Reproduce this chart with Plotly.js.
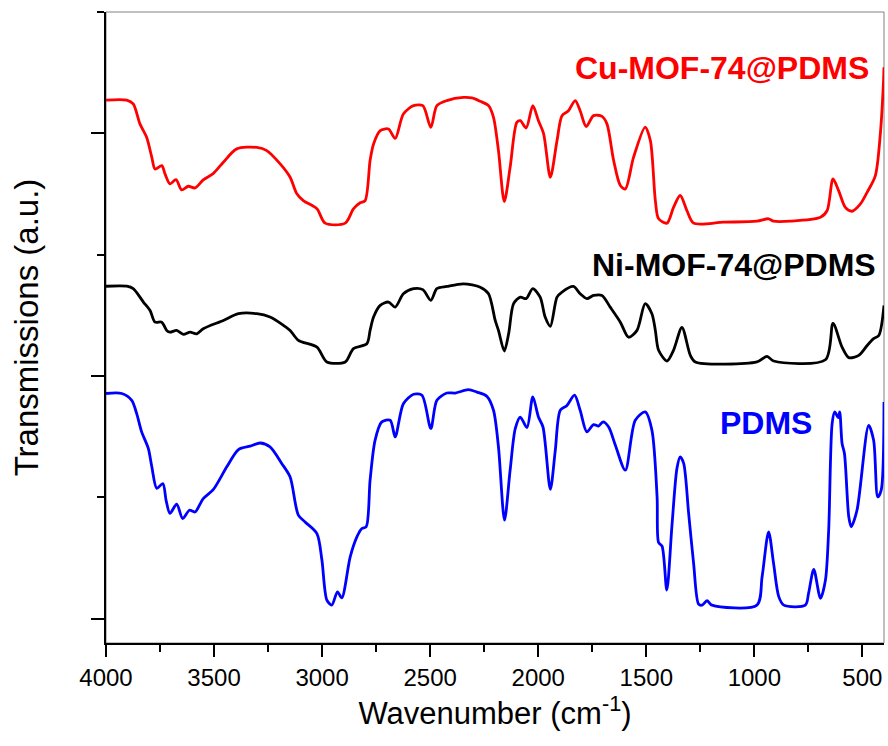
<!DOCTYPE html>
<html>
<head>
<meta charset="utf-8">
<script src="https://cdn.plot.ly/plotly-3.0.1.min.js"></script>
<style>html,body{margin:0;padding:0;background:#fff;}#chart{width:888px;height:746px;}</style>
</head>
<body>
<div id="chart"></div>
<script>
// Cu-MOF-74@PDMS (red)
const cuWavenumber = [4000,3904,3874,3843,3812,3788,3773,3742,3727,3704,3676,3650,3619,3588,3550,3503,3457,3395,3302,3256,3194,3148,3117,3087,3024,2986,2893,2855,2824,2801,2778,2762,2731,2693,2662,2624,2577,2534,2497,2469,2423,2346,2307,2268,2230,2207,2184,2157,2130,2099,2083,2056,2025,1999,1975,1944,1913,1890,1860,1829,1806,1778,1744,1705,1682,1651,1620,1597,1559,1505,1481,1458,1443,1404,1374,1343,1312,1281,1142,988,934,911,833,694,663,636,610,579,548,509,478,440,417,403,400];
const cuTransmission = [2.137,2.137,2.121,2.039,1.984,1.901,1.853,1.867,1.833,1.792,1.809,1.767,1.782,1.775,1.808,1.835,1.881,1.936,1.942,1.929,1.874,1.819,1.751,1.723,1.689,1.630,1.630,1.689,1.714,1.723,1.888,1.956,2.011,2.018,1.979,2.080,2.114,2.114,2.025,2.114,2.135,2.148,2.146,2.132,2.114,2.066,1.929,1.719,1.860,2.045,2.052,2.022,2.114,2.052,1.998,1.819,1.970,2.073,2.093,2.135,2.093,2.028,2.073,2.070,2.039,1.888,1.785,1.771,1.901,2.026,1.970,1.723,1.648,1.630,1.695,1.744,1.682,1.630,1.634,1.638,1.648,1.638,1.638,1.654,1.682,1.812,1.764,1.695,1.679,1.709,1.757,1.826,1.998,2.200,2.272];

// Ni-MOF-74@PDMS (black)
const niWavenumber = [4000,3904,3874,3827,3796,3773,3742,3719,3704,3673,3642,3611,3580,3550,3457,3387,3302,3241,3179,3148,3110,3024,2978,2893,2855,2793,2778,2762,2731,2693,2662,2624,2577,2534,2497,2469,2423,2346,2268,2230,2199,2184,2157,2137,2114,2083,2056,2025,1991,1968,1944,1913,1890,1837,1806,1775,1744,1705,1667,1620,1582,1543,1505,1474,1458,1443,1404,1374,1335,1296,1273,988,941,911,671,636,594,563,517,478,448,424,400];
const niTransmission = [1.370,1.370,1.360,1.305,1.270,1.222,1.222,1.188,1.181,1.188,1.172,1.181,1.174,1.195,1.229,1.257,1.257,1.243,1.209,1.188,1.147,1.119,1.058,1.058,1.113,1.133,1.188,1.243,1.291,1.305,1.284,1.339,1.360,1.356,1.312,1.360,1.369,1.380,1.366,1.339,1.229,1.188,1.103,1.174,1.298,1.325,1.319,1.360,1.325,1.243,1.205,1.325,1.346,1.369,1.339,1.319,1.332,1.332,1.284,1.222,1.160,1.188,1.298,1.257,1.188,1.106,1.062,1.106,1.200,1.085,1.058,1.058,1.081,1.062,1.067,1.217,1.119,1.076,1.085,1.126,1.154,1.167,1.291];

// PDMS (blue)
const pdmsWavenumber = [4000,3927,3881,3858,3835,3804,3788,3765,3737,3722,3704,3673,3645,3614,3588,3550,3503,3441,3387,3333,3287,3241,3187,3148,3110,3079,3024,3001,2978,2955,2929,2909,2870,2839,2816,2796,2778,2755,2724,2685,2662,2624,2577,2538,2497,2469,2423,2384,2323,2284,2237,2207,2184,2156,2130,2106,2083,2052,2025,1999,1978,1944,1921,1898,1867,1832,1806,1775,1744,1721,1700,1674,1643,1597,1551,1505,1474,1450,1443,1427,1405,1381,1358,1343,1327,1304,1281,1258,1242,1219,1196,988,964,934,911,887,864,764,749,725,694,671,656,640,628,612,605,594,583,563,552,525,471,448,429,413,400];
const pdmsTransmission = [0.928,0.928,0.900,0.845,0.770,0.701,0.626,0.537,0.557,0.488,0.434,0.472,0.413,0.447,0.440,0.495,0.533,0.626,0.697,0.711,0.724,0.708,0.640,0.584,0.427,0.399,0.351,0.242,0.077,0.056,0.111,0.086,0.255,0.337,0.372,0.379,0.571,0.735,0.811,0.818,0.749,0.886,0.925,0.921,0.784,0.900,0.930,0.930,0.944,0.934,0.916,0.859,0.708,0.406,0.612,0.784,0.831,0.788,0.914,0.831,0.790,0.533,0.694,0.859,0.879,0.921,0.859,0.770,0.800,0.794,0.811,0.790,0.715,0.612,0.818,0.852,0.777,0.502,0.314,0.299,0.118,0.386,0.620,0.667,0.640,0.434,0.228,0.060,0.056,0.074,0.056,0.056,0.173,0.358,0.228,0.091,0.056,0.056,0.105,0.203,0.084,0.159,0.365,0.804,0.852,0.829,0.852,0.722,0.681,0.420,0.379,0.447,0.797,0.735,0.502,0.530,0.893];

const seriesLabels = ["Cu-MOF-74@PDMS", "Ni-MOF-74@PDMS", "PDMS"];
const seriesColors = ["#ff0000", "#000000", "#0000ff"];
// label anchor positions (wavenumber, a.u.)
const labelWavenumber = [1148, 1093, 944];
const labelTransmission = [2.27, 1.456, 0.805];

const xs = [cuWavenumber, niWavenumber, pdmsWavenumber];
const ys = [cuTransmission, niTransmission, pdmsTransmission];

const traces = xs.map((x, i) => ({
  x: x, y: ys[i], type: 'scatter', mode: 'lines', name: seriesLabels[i],
  line: {color: seriesColors[i], width: 2.8, shape: 'spline', smoothing: 0.8},
  hoverinfo: 'skip'
}));

const FONT = 'Liberation Sans, Arial, sans-serif';

const layout = {
  width: 888, height: 746,
  margin: {l: 106, r: 4, t: 12, b: 103},
  paper_bgcolor: '#fff', plot_bgcolor: '#fff',
  showlegend: false,
  font: {family: FONT, color: '#000'},
  xaxis: {
    range: [4000, 400], autorange: false,
    showgrid: false, zeroline: false,
    showline: true, linecolor: '#000', linewidth: 2,
    ticks: 'outside', ticklen: 12, tickwidth: 2, tickcolor: '#000',
    tick0: 0, dtick: 500,
    minor: {ticks: 'outside', ticklen: 7, tickwidth: 2, tickcolor: '#000', dtick: 250, showgrid: false},
    tickfont: {family: FONT, size: 24, color: '#000'},
    title: {text: 'Wavenumber (cm<sup>-1</sup>)', font: {family: FONT, size: 31, color: '#000'}, standoff: 12}
  },
  yaxis: {
    range: [-0.1, 2.5], autorange: false,
    showgrid: false, zeroline: false,
    showline: true, linecolor: '#000', linewidth: 2,
    ticks: 'outside', ticklen: 13, tickwidth: 2, tickcolor: '#000',
    tick0: 0, dtick: 1, showticklabels: false,
    minor: {ticks: 'outside', ticklen: 7, tickwidth: 2, tickcolor: '#000', dtick: 0.5, showgrid: false},
    title: {text: 'Transmissions (a.u.)', font: {family: FONT, size: 33, color: '#000'}, standoff: 42}
  },
  shapes: [{
    type: 'rect', xref: 'paper', yref: 'paper', x0: 0, x1: 1, y0: 0, y1: 1,
    line: {color: '#808080', width: 1}, layer: 'below'
  }],
  annotations: seriesLabels.map((t, i) => ({
    x: labelWavenumber[i], y: labelTransmission[i], xref: 'x', yref: 'y',
    text: '<b>' + t + '</b>', showarrow: false, xanchor: 'center', yanchor: 'middle',
    font: {family: FONT, size: 32, color: seriesColors[i]}
  }))
};

Plotly.newPlot('chart', traces, layout, {staticPlot: true, displayModeBar: false});
</script>
</body>
</html>
